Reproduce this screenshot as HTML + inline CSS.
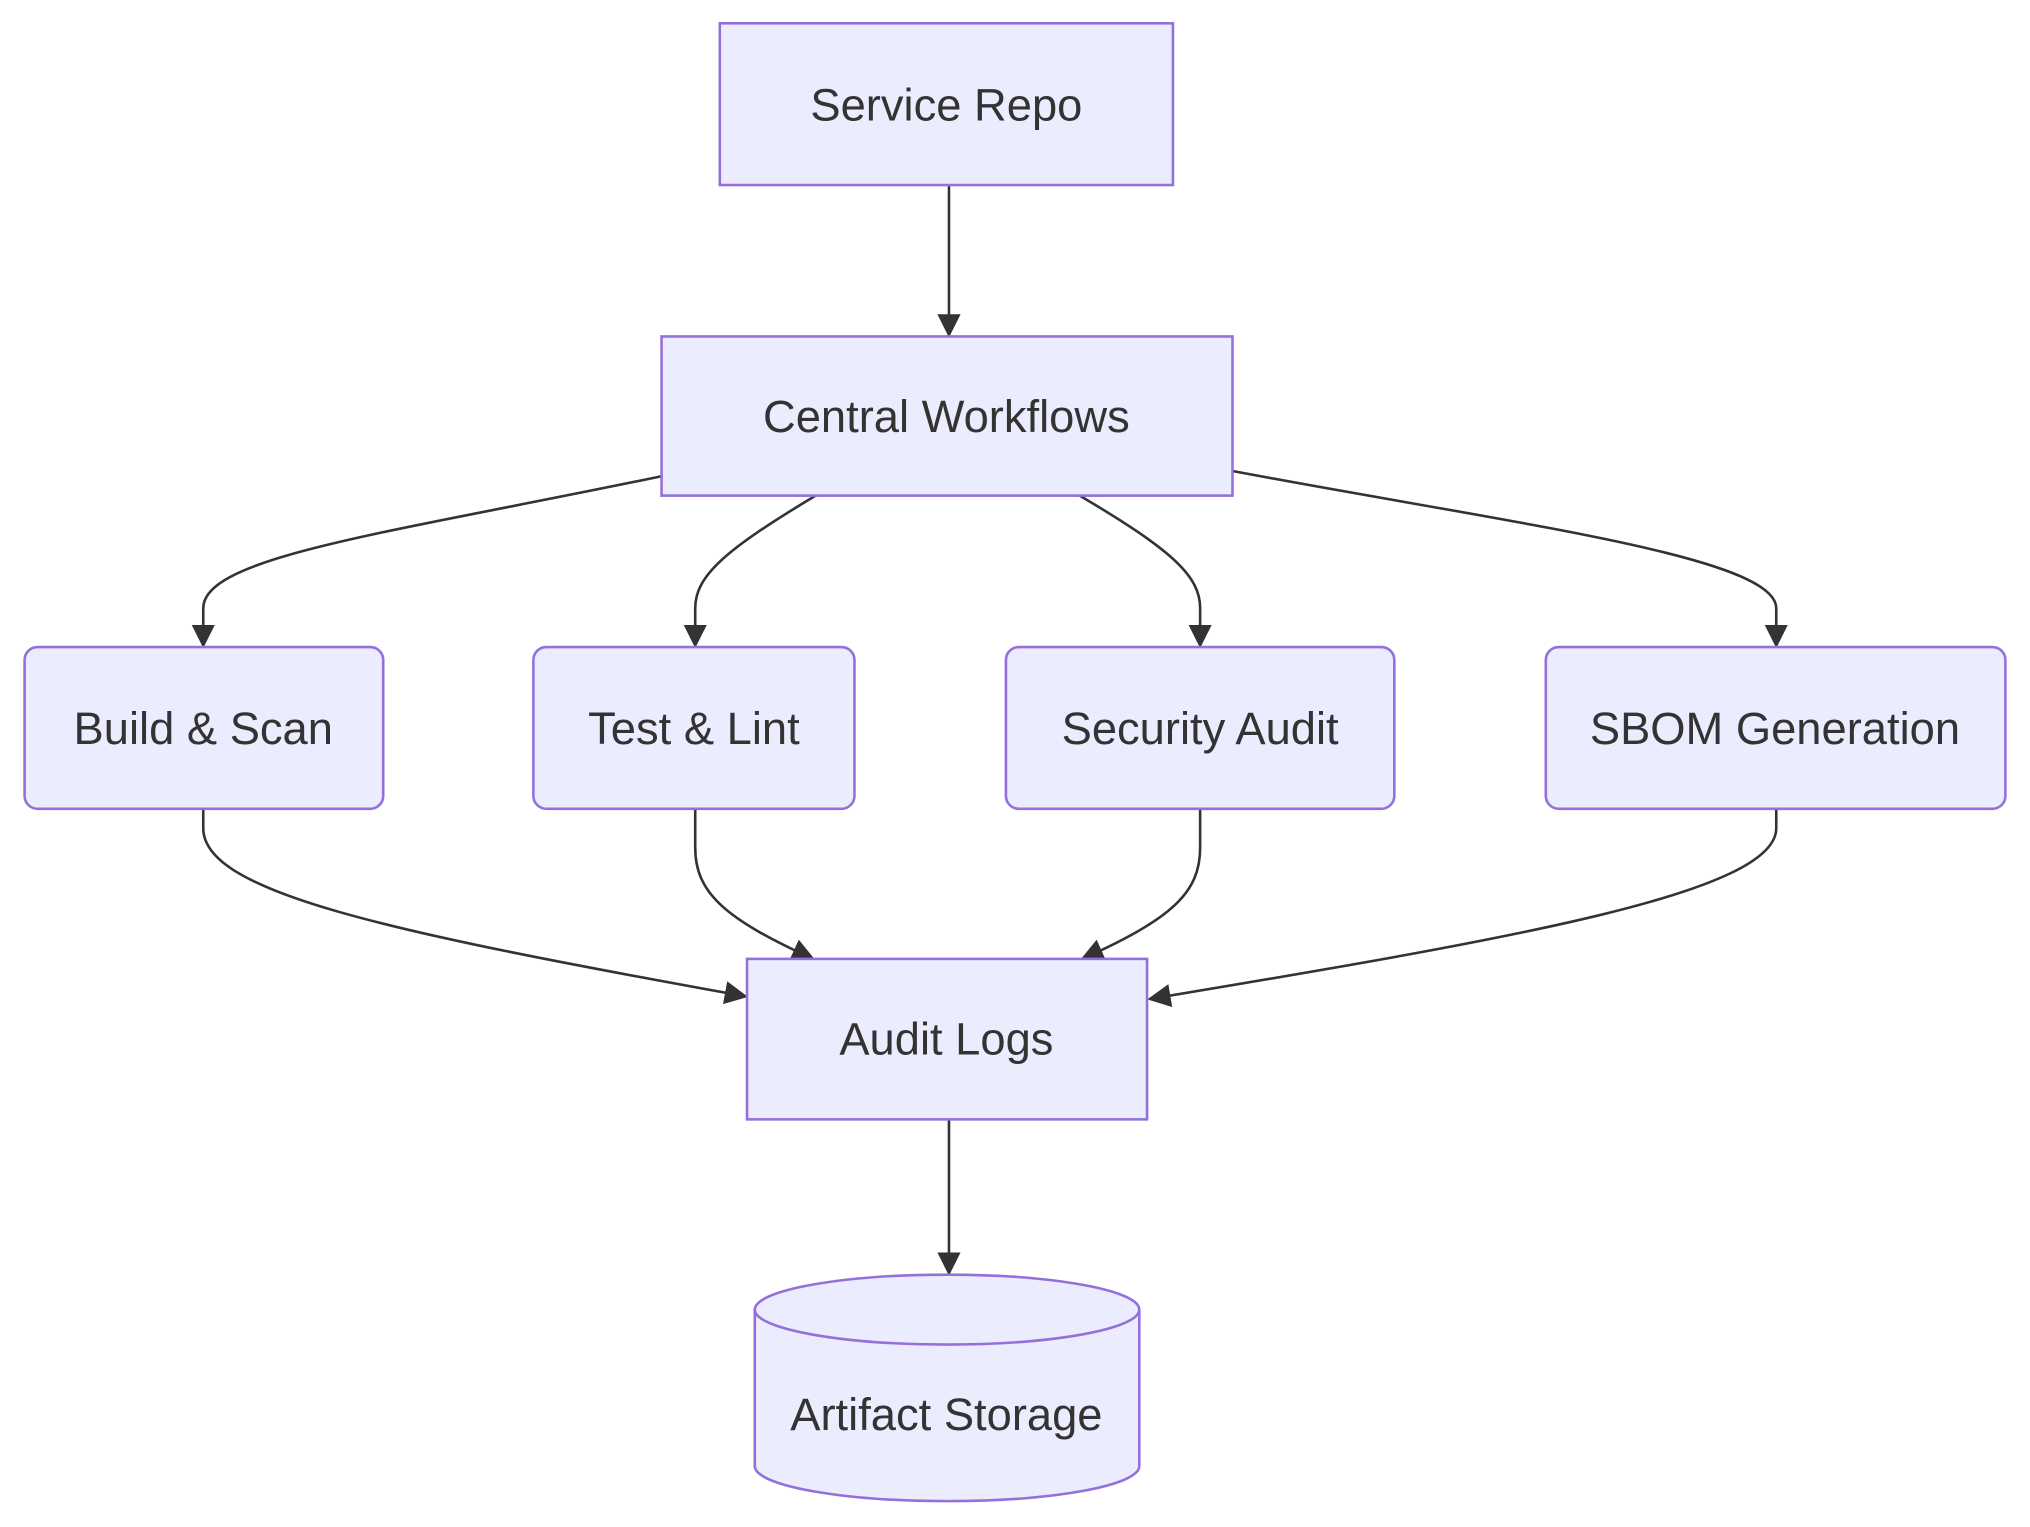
<!DOCTYPE html>
<html><head><meta charset="utf-8"><style>
html,body{margin:0;padding:0;background:#fff;}
svg{display:block;}
text{font-family:"Liberation Sans",sans-serif;font-size:35px;fill:#333;text-anchor:middle;dominant-baseline:central;}
.n{fill:#ECECFF;stroke:#9370DB;stroke-width:2;}
.e{fill:none;stroke:#333;stroke-width:2;}
</style></head><body>
<svg width="2030" height="1527" viewBox="0 0 1568 1180" preserveAspectRatio="none">
<defs>
<marker id="b" viewBox="0 0 10 10" refX="9" refY="5" markerWidth="18" markerHeight="18" markerUnits="userSpaceOnUse" orient="auto"><path d="M0,0L10,5L0,10z" fill="#333"/></marker></defs>
<path class="e" d="M733,143 L733,259" marker-end="url(#b)"/>
<path class="e" d="M511,368 C300,412 157,430 157,470 L157,499" marker-end="url(#b)"/>
<path class="e" d="M630,383 C560,425 537,445 537,470 L537,499" marker-end="url(#b)"/>
<path class="e" d="M834,383 C905,425 927,445 927,470 L927,499" marker-end="url(#b)"/>
<path class="e" d="M952,364 C1170,405 1372,430 1372,470 L1372,499" marker-end="url(#b)"/>
<path class="e" d="M157,625 L157,640 C157,690 300,720 576,770" marker-end="url(#b)"/>
<path class="e" d="M537,625 L537,655 C537,690 560,710 628,741" marker-end="url(#b)"/>
<path class="e" d="M927,625 L927,655 C927,690 905,710 836,741" marker-end="url(#b)"/>
<path class="e" d="M1372,625 L1372,640 C1372,690 1170,725 888,772" marker-end="url(#b)"/>
<path class="e" d="M733,865 L733,984" marker-end="url(#b)"/>
<rect class="n" x="556" y="18" width="350" height="125"/>
<text x="731" y="81">Service Repo</text>
<rect class="n" x="511" y="260" width="441" height="123"/>
<text x="731" y="322">Central Workflows</text>
<rect class="n" x="19" y="500" width="277" height="125" rx="10"/>
<text x="157" y="563">Build &amp; Scan</text>
<rect class="n" x="412" y="500" width="248" height="125" rx="10"/>
<text x="536" y="563">Test &amp; Lint</text>
<rect class="n" x="777" y="500" width="300" height="125" rx="10"/>
<text x="927" y="563">Security Audit</text>
<rect class="n" x="1194" y="500" width="355" height="125" rx="10"/>
<text x="1371" y="563">SBOM Generation</text>
<rect class="n" x="577" y="741" width="309" height="124"/>
<text x="731" y="803">Audit Logs</text>
<path class="n" d="M583,1012 A148.5,27 0 0 1 880,1012 L880,1133 A148.5,27 0 0 1 583,1133 Z"/>
<path class="n" style="fill:none" d="M583,1012 A148.5,27 0 0 0 880,1012"/>
<text x="731" y="1093">Artifact Storage</text>
</svg>
</body></html>
